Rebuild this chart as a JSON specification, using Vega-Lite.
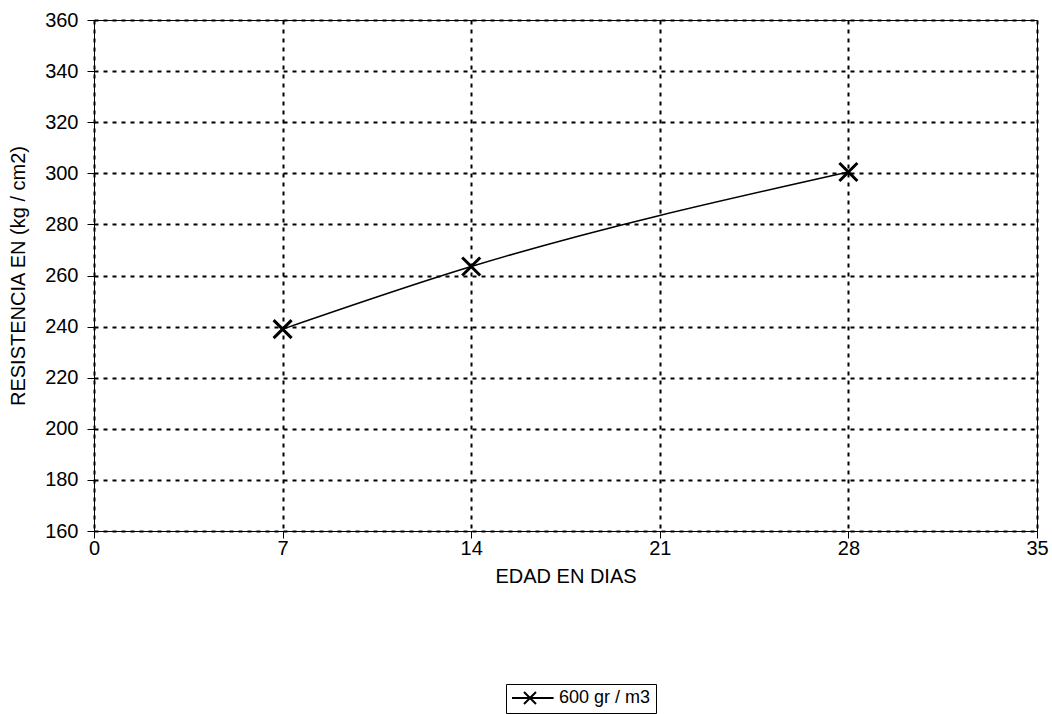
{
  "$schema": "https://vega.github.io/schema/vega-lite/v6.json",
  "width": 943,
  "height": 511,
  "autosize": "none",
  "padding": {"left": 94, "top": 20, "right": 15, "bottom": 183},
  "background": "white",
  "config": {
    "font": "Liberation Sans",
    "view": {"stroke": "black", "strokeWidth": 1}
  },
  "data": {
    "values": [
      {"dias": 7, "resistencia": 239, "serie": "600 gr / m3"},
      {"dias": 14, "resistencia": 263.5, "serie": "600 gr / m3"},
      {"dias": 28, "resistencia": 300.5, "serie": "600 gr / m3"}
    ]
  },
  "encoding": {
    "x": {
      "field": "dias",
      "type": "quantitative",
      "scale": {"domain": [0, 35], "nice": false},
      "axis": {
        "values": [0, 7, 14, 21, 28, 35],
        "title": "EDAD EN DIAS",
        "labelFlush": false,
        "domainColor": "black", "tickColor": "black", "tickSize": 7,
        "labelColor": "black", "labelFontSize": 20, "labelPadding": 0,
        "titleFontSize": 20, "titleFontWeight": "normal", "titleColor": "black", "titlePadding": 8,
        "gridColor": "black", "gridDash": [4, 5], "gridWidth": 2, "gridOpacity": 1
      }
    },
    "y": {
      "field": "resistencia",
      "type": "quantitative",
      "scale": {"domain": [160, 360], "nice": false, "zero": false},
      "axis": {
        "values": [160, 180, 200, 220, 240, 260, 280, 300, 320, 340, 360],
        "title": "RESISTENCIA EN (kg / cm2)",
        "labelFlush": false,
        "domainColor": "black", "tickColor": "black", "tickSize": 7,
        "labelColor": "black", "labelFontSize": 20, "labelPadding": 9,
        "titleFontSize": 20, "titleFontWeight": "normal", "titleColor": "black", "titlePadding": 16,
        "gridColor": "black", "gridDash": [4, 5], "gridWidth": 2, "gridOpacity": 1
      }
    },
    "color": {
      "field": "serie",
      "type": "nominal",
      "scale": {"range": ["black"]},
      "legend": {
        "title": null,
        "orient": "none",
        "legendX": 412,
        "legendY": 664,
        "strokeColor": "black",
        "padding": 5,
        "labelFontSize": 18,
        "labelColor": "black",
        "symbolType": "M-1,0L4.2,0M0.5,-0.75L2,0.75M0.5,0.75L2,-0.75",
        "symbolSize": 256,
        "symbolStrokeWidth": 2,
        "symbolStrokeColor": "black",
        "symbolFillColor": "transparent",
        "labelOffset": 30
      }
    }
  },
  "layer": [
    {"mark": {"type": "line", "interpolate": "monotone", "strokeWidth": 1.5}},
    {"mark": {"type": "point", "shape": "M-1,-1L1,1M-1,1L1,-1", "size": 324, "filled": false, "strokeWidth": 3, "opacity": 1}}
  ]
}
